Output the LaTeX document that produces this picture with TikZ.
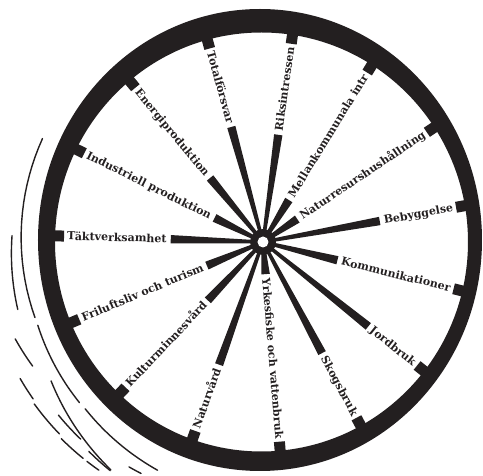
\documentclass[tikz,border=0pt]{standalone}
\usepackage{fontspec}
\setmainfont{DejaVu Serif}
\usetikzlibrary{calc,intersections}
\definecolor{ink}{RGB}{35,31,32}
\newcommand\motionseg[4]{\draw[mline] plot[domain=#1:#2, samples=20, variable=\ang] ({-3+(#3+(#4-#3)*(\ang-#1)/(#2-#1))*cos(\ang)}, {2+(#3+(#4-#3)*(\ang-#1)/(#2-#1))*sin(\ang)});}
\begin{document}
\begin{tikzpicture}[x=1pt,y=1pt,
  tabbox/.style={rectangle, fill=ink, minimum width=18pt, minimum height=11pt, inner sep=0pt},
  lbl/.style={inner sep=0pt, text height=1.45ex, text depth=0pt, font=\fontsize{11}{13}\selectfont\bfseries, text=ink},
  mline/.style={ink, line width=1.4pt, line cap=round}]
\useasboundingbox (-263,-234) rectangle (220,242);
\coordinate (hub) at (0,0);
% rim
\fill[ink, even odd rule] (-3,2) ellipse [x radius=222, y radius=231] (-1.5,0) ellipse [x radius=206.5, y radius=209.5];
\path[name path=inner] (-1.5,0) ellipse [x radius=206.5, y radius=209.5];
% spokes
\foreach \a/\rot/\anc/\nr/\txt [count=\i] in {
 105.4/-74.6/west/east/Totalförsvar,
 81.9/81.9/east/west/Riksintressen,
 58.4/58.4/east/west/Mellankommunala intr,
 33.8/33.8/east/west/Naturresurshushållning,
 10.2/10.2/east/west/Bebyggelse,
 -13.8/-13.8/east/west/Kommunikationer,
 -38.7/-38.7/east/west/Jordbruk,
 -62/-62/east/west/Skogsbruk,
 -85.3/-85.3/east/west/Yrkesfiske och vattenbruk,
 -109.7/70.3/west/east/Naturvård,
 -133.4/46.6/west/east/Kulturminnesvård,
 -157.2/22.8/west/east/Friluftsliv och turism,
 178.3/-1.7/west/east/Täktverksamhet,
 153.6/-26.4/west/east/Industriell produktion,
 129.6/-50.4/west/east/Energiproduktion}
{
  \path[name path=ray] (hub) -- (\a:300);
  \path[name intersections={of=inner and ray, by={r\i}}];
  \node[tabbox, rotate=\a] (tab\i) at (r\i) {};
  \node[lbl, rotate=\rot, anchor=\anc] (lbl\i) at ($(r\i)!12pt!(hub)$) {\txt};
  \coordinate (o\i) at ($(lbl\i.\nr)!4pt!(hub)$);
  \fill[ink] ($(o\i)!4.2pt!90:(hub)$) -- ($(o\i)!4.2pt!-90:(hub)$) -- ($(hub)!1.5pt!90:(o\i)$) -- ($(hub)!1.5pt!-90:(o\i)$) -- cycle;
}
% hub
\node[circle, fill=ink, minimum size=26pt, inner sep=0pt] (hubdisk) at (hub) {};
\node[circle, fill=white, minimum size=11pt, inner sep=0pt] (hole) at (hub) {};
% motion lines
\motionseg{155}{199}{240}{238}
\motionseg{201}{222}{238}{243}
\motionseg{224}{246}{243}{252}
\motionseg{179}{196}{248}{252}
\motionseg{202}{209}{264}{260}
\motionseg{221}{228}{267}{268}
\motionseg{231}{237}{272}{275}
\motionseg{240}{243}{262}{262}
\motionseg{214}{237}{252}{274}
\motionseg{210}{215}{277}{277}
\motionseg{216}{224}{279}{279}
\motionseg{225}{231}{281}{281}
\motionseg{232}{235}{281}{281}
\end{tikzpicture}
\end{document}
